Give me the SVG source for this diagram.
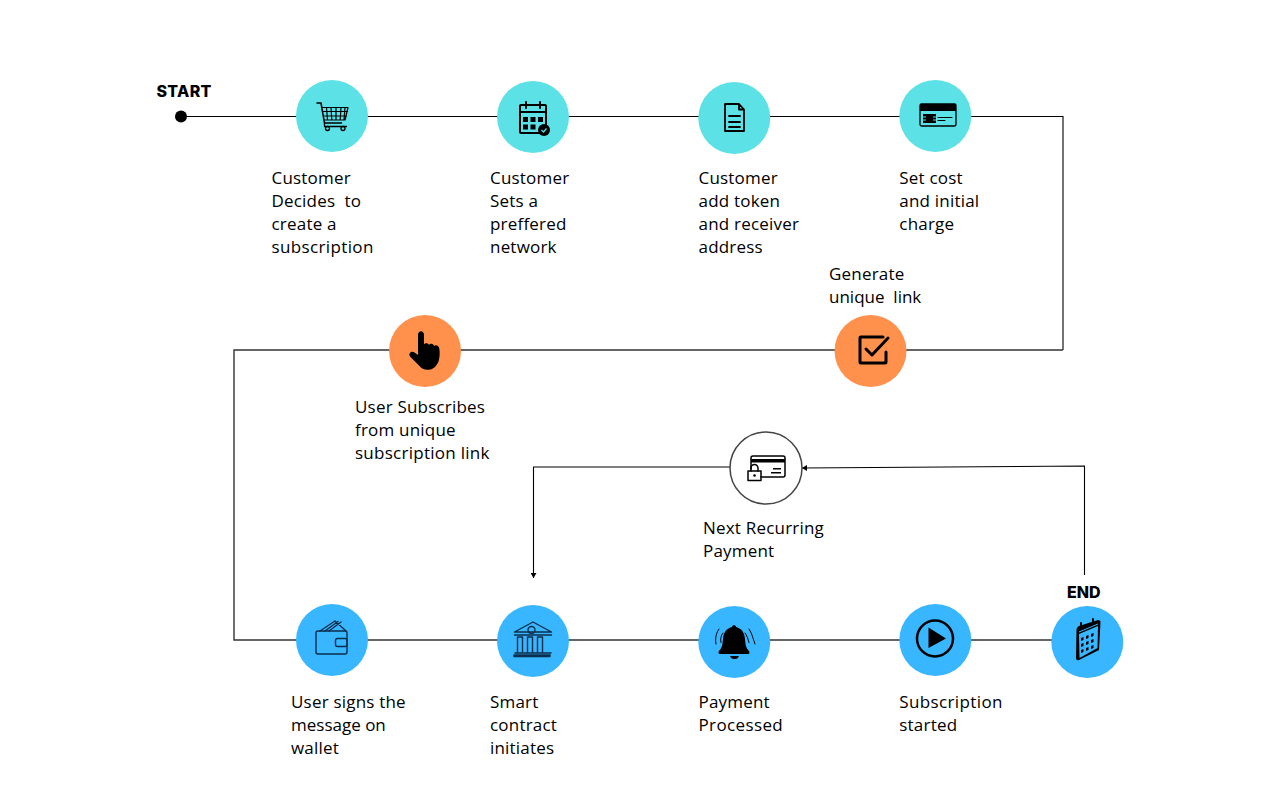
<svg xmlns="http://www.w3.org/2000/svg" width="1280" height="800" viewBox="0 0 1280 800">
<style>
.t{font-family:"Open Sans","Noto Sans","Liberation Sans",sans-serif;font-size:17px;fill:#000;letter-spacing:.2px;white-space:pre}
.w{letter-spacing:.37px}
.v{letter-spacing:.27px}
.m{letter-spacing:0}
.h{font-family:Inter,"Liberation Sans",sans-serif;font-size:16px;font-weight:800;fill:#000}
.cy{fill:#5ce1e6}.or{fill:#ff914d}.bl{fill:#38b6ff}
.i{fill:none;stroke:#000;stroke-width:2;stroke-linejoin:round;stroke-linecap:round}
.n{fill:none;stroke:#0b2f4d;stroke-width:1.4;stroke-linejoin:round;stroke-linecap:round}
.f{fill:#000}
.c{fill:none;stroke:#000;stroke-width:1.1}
.d{fill:none;stroke:#333;stroke-width:1.4}
</style>
<defs>
<marker id="a" markerWidth="6" markerHeight="6" refX="5" refY="3" orient="auto" markerUnits="userSpaceOnUse"><path d="M0 0L5 3L0 6Z" fill="#000"/></marker>
</defs>
<g id="connectors">
<path class="c" d="M181 116.500H1063V350"/>
<path class="d" d="M1063 350H234V640H1087"/>
<path class="c" d="M1084.500 575V466L802 468" marker-end="url(#a)"/>
<path class="c" d="M730 467H533.500V578" marker-end="url(#a)"/>
</g>
<g id="start"><circle cx="181" cy="116.500" r="6" class="f"/><text class="h" x="156.500" y="96.500" style="letter-spacing:.3px">START</text></g>
<g id="n1"><circle class="cy" cx="332" cy="116" r="36"/>
<path class="i" style="stroke-width:1.500" d="M317 103h4l3.500 20h17"/><path class="i" style="stroke-width:1.200" d="M322 107.500h26l-3 12.500h-21M326.500 107.500l1 12.500M331 107.500l.8 12.500M336 107.500v12.500M341 107.500l-.8 12.500M345 107.500l-1 12.500M322.500 111.500h25M323.500 116h23"/><circle class="i" style="stroke-width:1.300" cx="327.500" cy="128.500" r="2"/><circle class="i" style="stroke-width:1.300" cx="343" cy="128.500" r="2"/>
<path class="i" style="stroke-width:1.300" d="M324.500 123v3.500h22"/>
<text class="t"><tspan x="271.500" y="184">Customer</tspan><tspan x="271.500" y="207">Decides  to</tspan><tspan x="271.500" y="230">create a</tspan><tspan x="271.500" y="253" class="w">subscription</tspan></text></g>
<g id="n2"><circle class="cy" cx="533" cy="117" r="36"/>
<rect class="i" x="520" y="105" width="26" height="28" rx="1"/><path class="i" d="M520 112h26M526 102v6M540 102v6"/><path class="f" d="M523 117h5v5h-5zM530.500 117h5v5h-5zM538 117h5v5h-5zM523 124.500h5v5h-5zM530.500 124.500h5v5h-5z"/><circle class="f" cx="544" cy="130" r="6"/><path d="M541.500 130l2 2 3-3.500" fill="none" stroke="#5ce1e6" stroke-width="1.200"/>
<text class="t"><tspan x="490" y="184">Customer</tspan><tspan x="490" y="207">Sets a</tspan><tspan x="490" y="230">preffered</tspan><tspan x="490" y="253">network</tspan></text></g>
<g id="n3"><circle class="cy" cx="734.300" cy="118" r="36"/>
<path class="i" d="M725 104h14l5 5.500V131h-19zM739 104v5.500h5M729 116h11M729 122h11M729 127h11" style="stroke-width:1.800"/>
<text class="t"><tspan x="698.500" y="184">Customer</tspan><tspan x="698.500" y="207">add token</tspan><tspan x="698.500" y="230">and receiver</tspan><tspan x="698.500" y="253">address</tspan></text></g>
<g id="n4"><circle class="cy" cx="935.300" cy="116" r="36"/>
<rect class="i" style="stroke-width:1.300" x="920" y="104" width="36" height="22" rx="1.500"/><path class="f" d="M920 104h36v7h-36zM923 114h13v9h-13z"/><path d="M923 117h3M933 117h3M923 120h3M933 120h3" stroke="#5ce1e6" stroke-width="1"/><path class="i" style="stroke-width:1" d="M938 117.500h14M938 120.500h7"/>
<text class="t"><tspan x="899.300" y="184">Set cost</tspan><tspan x="899.300" y="207">and initial</tspan><tspan x="899.300" y="230">charge</tspan></text></g>
<g id="n5"><circle class="or" cx="870.500" cy="351" r="36"/>
<path class="i" style="stroke-width:3" d="M886 352v10a1 1 0 0 1-1 1h-24a1 1 0 0 1-1-1v-24a1 1 0 0 1 1-1h22M866 349l6 6 16-17"/>
<text class="t"><tspan x="829" y="280">Generate</tspan><tspan x="829" y="303" class="m">unique  link</tspan></text></g>
<g id="n6"><circle class="or" cx="425" cy="351" r="36"/>
<path class="f" d="M418 335c0-5 6-5 6 0v9.500c1-2 4.500-1.500 5 .5 1-1.800 4.500-1.500 5 1 1.200-1.500 4-1 5 1.500 1 3 1 10-.5 14-1.500 3.500-4 7-8 8-5 1-9-.5-11.500-4l-9-9c-2-3 1.500-6 4.500-4l3.500 2.500z"/>
<text class="t"><tspan x="355" y="413">User Subscribes</tspan><tspan x="355" y="436">from unique</tspan><tspan x="355" y="459" class="v">subscription link</tspan></text></g>
<g id="n7"><circle cx="766" cy="468" r="36" fill="#fff" stroke="#444" stroke-width="1.500"/>
<path class="i" style="stroke-width:1.500" d="M751 469v-11a2 2 0 0 1 2-2h30a2 2 0 0 1 2 2v17a2 2 0 0 1-2 2h-22"/><path class="f" d="M751 459h34v3.500h-34zM773 468h8v1.500h-8zM771 472h10v1.500h-10z"/><rect class="i" style="stroke-width:1.500" x="748" y="471" width="13" height="9.500"/><path class="i" style="stroke-width:1.500" d="M751 471v-3a3.500 3.500 0 0 1 7 0v3"/><circle class="f" cx="754.500" cy="475.500" r="1.300"/>
<text class="t"><tspan x="703" y="534">Next Recurring</tspan><tspan x="703" y="557">Payment</tspan></text></g>
<g id="n8"><circle class="bl" cx="332" cy="640" r="36"/>
<rect class="n" x="316" y="631" width="31" height="23" rx="2"/><path class="n" d="M320 631l15-10 11 10M325 631l13-9.500M329 631l12-9"/><rect class="n" x="335.500" y="638.500" width="11.500" height="8" rx="2"/>
<text class="t"><tspan x="291" y="708">User signs the</tspan><tspan x="291" y="731" class="m">message on</tspan><tspan x="291" y="754">wallet</tspan></text></g>
<g id="n9"><circle class="bl" cx="533" cy="641" r="36"/>
<path class="n" d="M514.500 632l18.500-10 18.500 10zM514.500 635h37M517.500 637h5v16h-5zM527.500 637h5v16h-5zM537.500 637h5v16h-5zM515 653h36"/><circle class="n" cx="531.500" cy="630" r="3.500"/><rect class="n" x="514" y="655" width="36" height="1.500" fill="#0b2f4d"/>
<text class="t"><tspan x="490" y="708">Smart</tspan><tspan x="490" y="731">contract</tspan><tspan x="490" y="754">initiates</tspan></text></g>
<g id="n10"><circle class="bl" cx="734.300" cy="642" r="36"/>
<path class="f" d="M734 625c1 0 2 1 2 2 6 1.500 8.500 6 9 12 .5 6 1 9 4 12 1 1.500 .5 3-1 3h-28c-1.500 0-2-1.500-1-3 3-3 3.500-6 4-12 .5-6 3-10.500 9-12 0-1 1-2 2-2zM730 656h9c-1 2.500-2.500 3-4.500 3s-3.500-.5-4.500-3z"/>
<path class="i" style="stroke-width:1" d="M719 629c-3 4-4 10-3 15M723 633c-2 2.500-3 6-2 9.500M749 629c3 4 4 10 6 15M745 633c2 2.500 3 6 4 9.500"/>
<text class="t"><tspan x="698.500" y="708">Payment</tspan><tspan x="698.500" y="731" class="w">Processed</tspan></text></g>
<g id="n11"><circle class="bl" cx="935.300" cy="640" r="36"/>
<circle class="i" style="stroke-width:2.500" cx="935" cy="638.500" r="18"/><path class="f" d="M928.500 627.500L946 638.500L928.500 648z"/>
<text class="t"><tspan x="899.300" y="708" class="w">Subscription</tspan><tspan x="899.300" y="731">started</tspan></text></g>
<g id="n12"><circle class="bl" cx="1087.300" cy="642" r="36"/>
<path class="f" d="M1079 626l19-6c2 0 2.500 1 2.500 2l-1.500 28-20 10c-1.500.500-3 0-3-2l.5-28c0-2 1-3 2.500-4z"/><path fill="#38b6ff" d="M1079 634l19-8-.5 22-18 10zM1098 623.500l-19 8v1l19-8z"/><path class="f" d="M1081 638l2.500-1v3l-2.500 1zM1086 636l2.500-1v3l-2.500 1zM1091 634l2.500-1v3l-2.500 1zM1081 644l2.500-1v3l-2.500 1zM1086 642l2.500-1v3l-2.500 1zM1091 640l2.500-1v3l-2.500 1zM1081 650l2.500-1v3l-2.500 1zM1086 648l2.500-1v3l-2.500 1zM1091 646l2.500-1v3l-2.500 1z"/><path class="i" d="M1081 623v5M1093 619v5"/>
<text class="h" x="1067" y="597.500">END</text></g>
</svg>
